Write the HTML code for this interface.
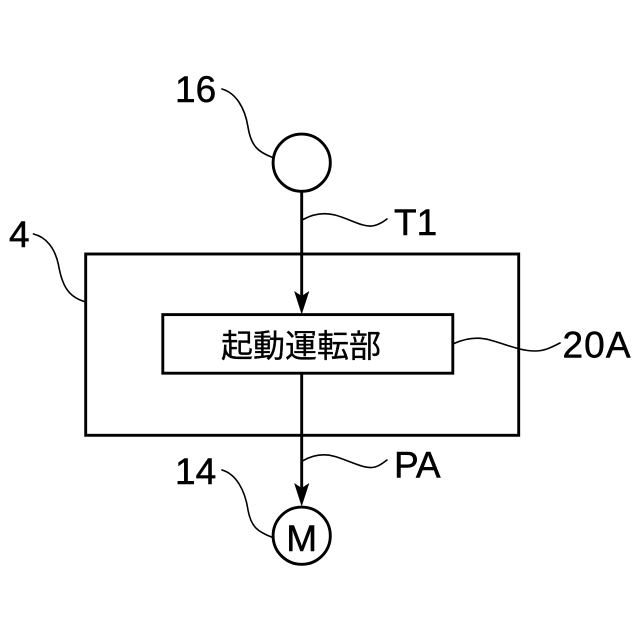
<!DOCTYPE html>
<html lang="ja">
<head>
<meta charset="utf-8">
<style>
html,body{margin:0;padding:0;background:#fff}
svg{display:block}
text{font-family:"Liberation Sans","Noto Sans CJK JP",sans-serif;font-size:37px;fill:#000;stroke:#000;stroke-width:.5px}
</style>
</head>
<body>
<svg width="640" height="640" viewBox="0 0 640 640" xmlns="http://www.w3.org/2000/svg">
<rect width="640" height="640" fill="#fff"/>
<g fill="none" stroke="#000" stroke-width="2.9">
  <rect x="85.7" y="254" width="433" height="181.3"/>
  <rect x="162.8" y="314.6" width="290" height="58.6" fill="#fff"/>
  <circle cx="301.7" cy="162.7" r="28.6"/>
  <circle cx="301.7" cy="535.7" r="28.6"/>
  <path d="M301.7 191.3V300M301.7 373.2V492"/>
</g>
<path d="M301.700 314.500L294.100 291L301.700 296L309.300 291Z" fill="#000"/>
<path d="M301.700 506.500L294.100 483L301.700 488L309.300 483Z" fill="#000"/>
<g fill="none" stroke="#000" stroke-width="1.6" stroke-linecap="round">
  <path d="M222 89C236 93 245 108 248 127C251 146 258 152 272.700 157.500"/>
  <path d="M303 219.500C313 214 323 212 335 215C350 219 362 227 372 226C378 225.500 383 222 387 219"/>
  <path d="M454 343.500C464 339 476 336 490 340C505 344 520 351 535 351C545 351 552 347 560 343"/>
  <path d="M303 460.700C313 455 323 453 335 456.500C350 461 362 468 372 467.500C378 467 383 463 387 460"/>
  <path d="M222 470C236 474 245 490 248 510C251 527 258 532 272.700 537.500"/>
  <path d="M33.500 234C46 237 55 248 58.500 265C62 285 68 297 85 301.700"/>
</g>
<text x="175" y="102">16</text>
<text x="394" y="235">T1</text>
<text x="9" y="247">4</text>
<text x="562.500" y="357.500" textLength="68">20A</text>
<text x="394" y="477.500">PA</text>
<text x="175" y="484">14</text>
<text x="301.700" y="551" text-anchor="middle">M</text>
<text x="221" y="357" style="font-size:32px;stroke-width:.3px">起動運転部</text>
</svg>
</body>
</html>
